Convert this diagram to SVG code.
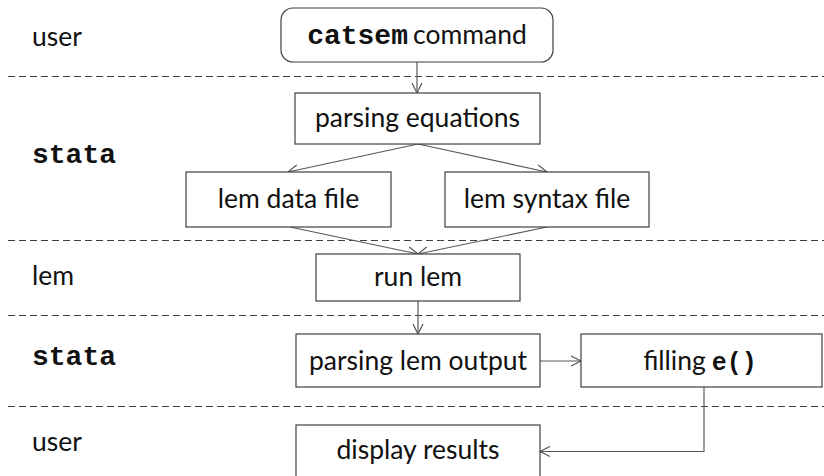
<svg xmlns="http://www.w3.org/2000/svg" width="824" height="476" viewBox="0 0 824 476">
<defs>
<style>
.lane{stroke:#404040;stroke-width:1;stroke-dasharray:7 4;fill:none}
.box{fill:#fff;stroke:#404040;stroke-width:1.2}
.t{font-family:Lato,"Open Sans",sans-serif;font-size:26.5px;fill:#111}
.m{font-family:"Liberation Mono","Courier New",monospace;font-weight:bold;font-size:28px;fill:#111}
.c{stroke:#595959;stroke-width:1.2;fill:none;marker-end:url(#ah)}
</style>
<marker id="ah" viewBox="0 0 12 12" refX="11" refY="6" markerWidth="12" markerHeight="12" markerUnits="userSpaceOnUse" orient="auto">
<path d="M1,1 L11,6 L1,11" fill="none" stroke="#595959" stroke-width="1.2"/>
</marker>
</defs>
<rect width="824" height="476" fill="#fff"/>
<g id="lanes">
<line class="lane" x1="8" y1="76.5" x2="824" y2="76.5"/>
<line class="lane" x1="8" y1="240.5" x2="824" y2="240.5"/>
<line class="lane" x1="8" y1="315.5" x2="824" y2="315.5"/>
<line class="lane" x1="8" y1="406.5" x2="824" y2="406.5"/>
<text class="t" x="32" y="46">user</text>
<text class="m" x="32" y="163">stata</text>
<text class="t" x="32" y="285">lem</text>
<text class="m" x="32" y="365">stata</text>
<text class="t" x="32" y="451">user</text>
</g>
<g id="connectors">
<path class="c" d="M417,62 V93"/>
<path class="c" d="M418,144 L288,172"/>
<path class="c" d="M418,144 L547,172"/>
<path class="c" d="M290,227 L418,254"/>
<path class="c" d="M547,227 L418,254"/>
<path class="c" d="M418,301 V334"/>
<path class="c" d="M540,361 H581"/>
<path class="c" d="M704,387 V451.5 H540"/>
</g>
<g id="catsem">
<rect class="box" x="281" y="8" width="272" height="54" rx="12"/>
<text x="417" y="44" text-anchor="middle"><tspan class="m">catsem</tspan><tspan class="t" dx="5">command</tspan></text>
</g>
<g id="parsing-equations">
<rect class="box" x="295" y="93" width="245" height="51"/>
<text class="t" x="417.5" y="127" text-anchor="middle">parsing equations</text>
</g>
<g id="lem-data-file">
<rect class="box" x="186" y="172" width="205" height="55"/>
<text class="t" x="288.5" y="208" text-anchor="middle">lem data file</text>
</g>
<g id="lem-syntax-file">
<rect class="box" x="445" y="172" width="204" height="55"/>
<text class="t" x="547" y="208" text-anchor="middle">lem syntax file</text>
</g>
<g id="run-lem">
<rect class="box" x="316" y="254" width="204" height="47"/>
<text class="t" x="418" y="286" text-anchor="middle">run lem</text>
</g>
<g id="parsing-lem-output">
<rect class="box" x="296" y="334" width="244" height="53"/>
<text class="t" x="418" y="370" text-anchor="middle">parsing lem output</text>
</g>
<g id="filling">
<rect class="box" x="581" y="334" width="241" height="53"/>
<text x="700" y="370" text-anchor="middle"><tspan class="t">filling</tspan><tspan class="m" dx="6" style="font-size:25px">e()</tspan></text>
</g>
<g id="display-results">
<rect class="box" x="296" y="425" width="244" height="60"/>
<text class="t" x="418" y="459" text-anchor="middle">display results</text>
</g>
</svg>
